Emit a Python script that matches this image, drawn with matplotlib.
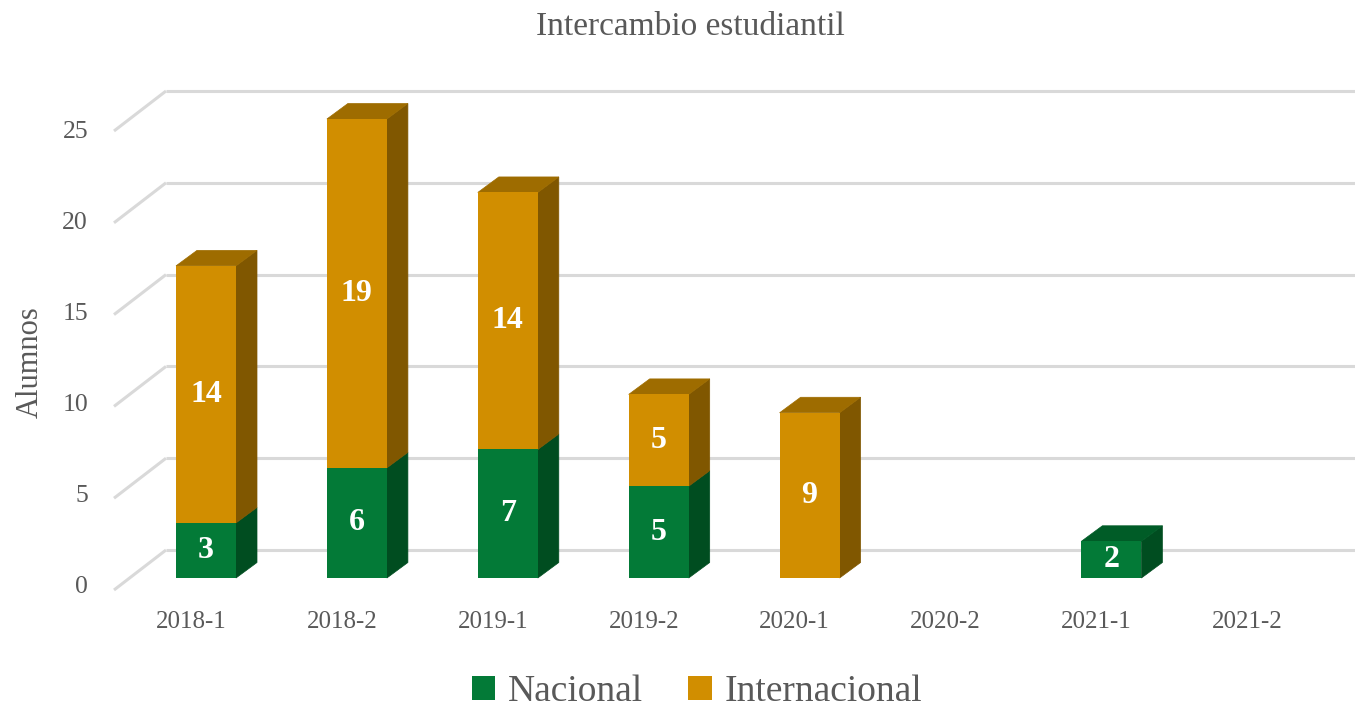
import matplotlib
matplotlib.use("Agg")
import matplotlib.pyplot as plt
from matplotlib.patches import Polygon, Patch

# ---------------- data ----------------
periods = ['2018-1', '2018-2', '2019-1', '2019-2', '2020-1', '2020-2', '2021-1', '2021-2']
nacional = [3, 6, 7, 5, 0, 0, 2, 0]
internacional = [14, 19, 14, 5, 9, 0, 0, 0]
y_ticks = [0, 5, 10, 15, 20, 25]
series_names = ['Nacional', 'Internacional']

# ---------------- style ----------------
FONT = 'Liberation Serif'
TXT = '#595959'
GRID = '#D9D9D9'
colors = {
    'Nacional': dict(front='#037A37', side='#004D20', top='#005C27'),
    'Internacional': dict(front='#D18E00', side='#805700', top='#9E6C00'),
}

W, H = 1355, 707
PX_X0, PX_DX = 206.0, 150.9     # pixel centre of first bar, spacing
PX_Y0, PX_DY = 578.0, 18.36     # pixel of value 0 on front plane, px per unit

fig = plt.figure(figsize=(W / 100, H / 100), dpi=100)
ax = fig.add_axes([0, 0, 1, 1])
ax.set_xlim((0 - PX_X0) / PX_DX, (W - PX_X0) / PX_DX)
ax.set_ylim((PX_Y0 - H) / PX_DY, PX_Y0 / PX_DY)
ax.axis('off')

def xd(px):
    return (px - PX_X0) / PX_DX

def yd(py):
    return (PX_Y0 - py) / PX_DY

bar_w = 60 / PX_DX
depth_x = 21 / PX_DX
depth_y = 15.5 / PX_DY

# ---------------- back wall gridlines + floor diagonals ----------------
back_off = (PX_Y0 - 550) / PX_DY
front_off = (PX_Y0 - 590) / PX_DY
for v in y_ticks:
    ax.plot([xd(166), xd(W + 5)], [v + back_off, v + back_off], color=GRID, lw=2.2,
            solid_capstyle='butt', zorder=1)
    ax.plot([xd(114), xd(166)], [v + front_off, v + back_off], color=GRID, lw=2.2,
            solid_capstyle='butt', zorder=1)
    ax.text(xd(88), yd(587 - 18.2 * v), str(v), ha='right', va='center',
            fontsize=18.5, color=TXT, family=FONT)

# ---------------- bars ----------------
x = list(range(len(periods)))
stacks = [nacional, internacional]
for si, (name, vals) in enumerate(zip(series_names, stacks)):
    c = colors[name]
    bottoms = [sum(s[i] for s in stacks[:si]) for i in x]
    ax.bar(x, vals, width=bar_w, bottom=bottoms, color=c['front'], edgecolor='none',
           linewidth=0, zorder=3)
    for i in x:
        v = vals[i]
        if v <= 0:
            continue
        b = bottoms[i]
        t = b + v
        xr = i + bar_w / 2
        xl = i - bar_w / 2
        side = Polygon([(xr, b), (xr + depth_x, b + depth_y), (xr + depth_x, t + depth_y), (xr, t)],
                       closed=True, facecolor=c['side'], edgecolor=c['side'], lw=0.5, zorder=2.5)
        ax.add_patch(side)
        # top face only for topmost segment
        above = sum(s[i] for s in stacks[si + 1:])
        if above == 0:
            top = Polygon([(xl, t), (xr, t), (xr + depth_x, t + depth_y), (xl + depth_x, t + depth_y)],
                          closed=True, facecolor=c['top'], edgecolor=c['top'], lw=0.5, zorder=2.5)
            ax.add_patch(top)
        ax.text(i, b + v / 2, str(v), ha='center', va='center', color='white',
                fontsize=23, fontweight='bold', family=FONT, zorder=5)

# ---------------- category labels ----------------
for i, p in enumerate(periods):
    ax.text(xd(191 + PX_DX * i), yd(622), p, ha='center', va='center',
            fontsize=18, color=TXT, family=FONT)

# ---------------- titles ----------------
ax.text(xd(690), yd(27), 'Intercambio estudiantil', ha='center', va='center',
        fontsize=24, color=TXT, family=FONT)
ax.text(xd(30), yd(362), 'Alumnos', ha='center', va='center', rotation=90,
        fontsize=22, color=TXT, family=FONT)

# ---------------- legend ----------------
handles = [Patch(facecolor=colors[n]['front'], edgecolor='none', label=n) for n in series_names]
leg = fig.legend(handles=handles, loc='center', bbox_to_anchor=(697 / W, 1 - 692 / H),
                 ncol=2, frameon=False, prop={'family': FONT, 'size': 27},
                 handlelength=0.62, handleheight=0.62, handletextpad=0.35, columnspacing=1.2)
for t in leg.get_texts():
    t.set_color(TXT)

fig.savefig('out.png', dpi=100)
